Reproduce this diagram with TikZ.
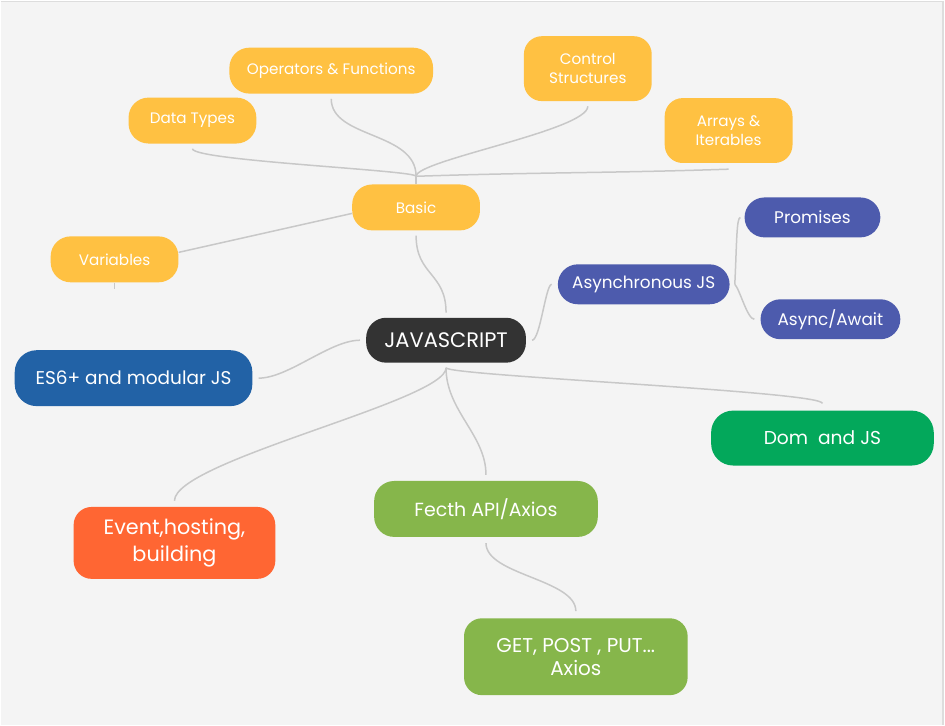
\documentclass[tikz,border=0pt]{standalone}
\usepackage{fontspec}
\setmainfont{Poppins}
\usepackage{xcolor}
\usetikzlibrary{shapes.geometric}
\definecolor{bgc}{HTML}{F4F4F4}
\definecolor{edgec}{HTML}{DDDDDD}
\definecolor{linec}{HTML}{C8C8C8}
\definecolor{yellowc}{HTML}{FFC142}
\definecolor{purplec}{HTML}{4D5BAD}
\definecolor{darkc}{HTML}{333333}
\definecolor{bluec}{HTML}{2262A6}
\definecolor{domc}{HTML}{03A85B}
\definecolor{orangec}{HTML}{FF6633}
\definecolor{limec}{HTML}{86B64B}
\tikzstyle{topic} = [rectangle, rounded corners=20pt, align=center, text=white, inner sep=0pt, font=\fontsize{15.2}{19}\selectfont]
\tikzstyle{basic} = [topic, fill=yellowc, minimum width=128pt, minimum height=46pt]
\tikzstyle{async} = [topic, fill=purplec, minimum height=40pt, font=\fontsize{16.9}{19}\selectfont]
\tikzstyle{root} = [topic, fill=darkc, minimum width=160pt, minimum height=45pt, font=\fontsize{21}{24}\selectfont]
\tikzstyle{branch} = [topic, minimum height=56pt, rounded corners=22pt, font=\fontsize{18.5}{23}\selectfont]
\tikzstyle{link} = [draw=linec, line width=1.5pt]

\begin{document}
\begin{tikzpicture}[x=1pt, y=-1pt]

	\fill [bgc] (0,0) rectangle (945,725);
	\draw [edgec, line width=1.5pt] (0,1) -- (945,1);
	\draw [edgec, line width=1.5pt] (943.5,0) -- (943.5,725);
	\useasboundingbox (0,0) rectangle (945,725);

	\node (js) [root] at (446,340) {JAVASCRIPT};

	% basics
	\node (basic) [basic] at (416,207) {Basic};
	\node (types) [basic] at (192,120) {Data Types};
	\node (ops) [basic, minimum width=204pt] at (331,70) {Operators \& Functions};
	\node (ctrl) [basic, minimum height=65pt, rounded corners=18pt] at (588,68) {Control\\Structures};
	\node (arr) [basic, minimum height=65pt, rounded corners=18pt] at (729,130) {Arrays \&\\Iterables};
	\node (vars) [basic] at (114,259) {Variables};

	\coordinate (bj) at ([yshift=8pt]basic.north);
	\draw [link] (basic.north) -- (bj);
	\draw [link] (bj) .. controls +(0,-6) and +(0,12) .. ([yshift=-5pt]types.south);
	\draw [link] (bj) .. controls +(0,-45) and +(0,40) .. ([yshift=-5pt]ops.south);
	\draw [link] (bj) .. controls +(0,-16) and +(0,24) .. ([yshift=-5pt]ctrl.south);
	\draw [link] (bj) .. controls +(120,-4) and +(-120,4) .. ([yshift=-6pt]arr.south);
	\draw [link] ([yshift=-6pt]basic.west) -- ([yshift=7pt]vars.east);
	\draw [link] (vars.south) -- +(0,7);
	\draw [link] ([yshift=-5pt]basic.south) .. controls +(0,40) and +(0,-40) .. ([yshift=5pt]js.north);

	% asynchronous
	\node (async) [async, minimum width=172pt] at (644,284) {Asynchronous JS};
	\node (prom) [async, minimum width=136pt] at (813,217) {Promises};
	\node (await) [async, minimum width=140pt] at (831,319) {Async/Await};

	\draw [link] ([xshift=6pt]js.east) .. controls +(8,0) and +(-6,0) .. ([xshift=-6pt]async.west);
	\coordinate (aj) at ([xshift=5pt]async.east);
	\draw [link] (aj) .. controls +(2,-40) and +(-4,0) .. ([xshift=-4pt]prom.west);
	\draw [link] (aj) .. controls +(5,5) and +(-7,0) .. ([xshift=-6pt]await.west);

	% other branches
	\node (es6) [branch, fill=bluec, minimum width=238pt] at (133,378) {ES6+ and modular JS};
	\node (dom) [branch, fill=domc, minimum width=223pt, minimum height=55pt, font=\fontsize{18.7}{23}\selectfont] at (823,438) {Dom~ and JS};
	\node (event) [branch, fill=orangec, minimum width=202pt, minimum height=72pt, rounded corners=18pt, font=\fontsize{20.8}{27}\selectfont] at (174,543) {Event,hosting,\\building};
	\node (fetch) [branch, fill=limec, minimum width=224pt, rounded corners=20pt, font=\fontsize{19}{23}\selectfont] at (486,509) {Fecth API/Axios};
	\node (get) [branch, fill=limec, minimum width=224pt, minimum height=77pt, rounded corners=18pt, font=\fontsize{20}{23}\selectfont] at (576,657) {GET, POST , PUT...\\Axios};

	\draw [link] ([xshift=-6pt]js.west) .. controls +(-30,0) and +(30,0) .. ([xshift=6pt]es6.east);
	\coordinate (jj) at ([yshift=-5pt]js.south);
	\draw [link] (jj) .. controls +(0,33) and +(0,-40) .. ([yshift=6pt]event.north);
	\draw [link] (jj) .. controls +(0,43) and +(0,-40) .. ([yshift=6pt]fetch.north);
	\draw [link] (jj) .. controls +(4,8) and +(0,-12) .. ([yshift=7pt]dom.north);
	\draw [link] ([yshift=-6pt]fetch.south) .. controls +(0,32) and +(0,-32) .. ([yshift=7pt]get.north);

\end{tikzpicture}
\end{document}
